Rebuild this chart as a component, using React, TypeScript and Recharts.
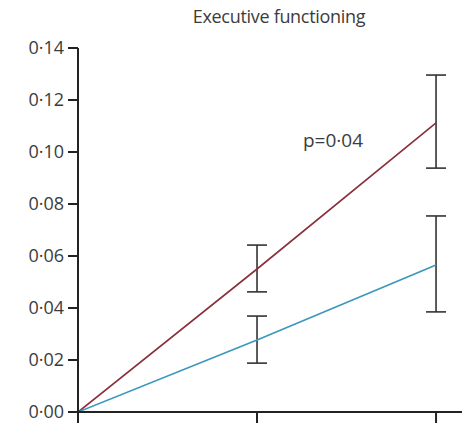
import React from 'react';
import { LineChart, Line, XAxis, YAxis, ErrorBar } from 'recharts';

const timepoints = [0, 1, 2];
const redMean = [0, 0.055, 0.1112];
const redLow = [0, 0.0462, 0.0938];
const redHigh = [0, 0.0642, 0.1296];
const blueMean = [0, 0.0277, 0.0565];
const blueLow = [0, 0.0188, 0.0385];
const blueHigh = [0, 0.0369, 0.0754];
const yTicks = [0, 0.02, 0.04, 0.06, 0.08, 0.1, 0.12, 0.14];
const title = 'Executive functioning';
const pLabel = 'p=0·04';

const data = timepoints.map((t, i) => ({
  t,
  red: redMean[i],
  redErr: [redMean[i] - redLow[i], redHigh[i] - redMean[i]],
  blue: blueMean[i],
  blueErr: [blueMean[i] - blueLow[i], blueHigh[i] - blueMean[i]],
}));

const fmt = (v: number) => v.toFixed(2).replace('.', '·');
const font = '"Open Sans", sans-serif';
const textColor = '#3c3c3c';

export default function App() {
  return (
    <div style={{ position: 'absolute', left: 0, top: 0, width: 462, height: 429, background: '#fff' }}>
      <LineChart width={462} height={429} data={data} margin={{ top: 48, right: 0, bottom: 0, left: 0 }}>
        <XAxis
          dataKey="t"
          type="number"
          domain={[0, 2.145]}
          ticks={[0, 1, 2]}
          allowDataOverflow
          height={17}
          tickSize={11}
          tickFormatter={() => ''}
          axisLine={{ stroke: '#222', strokeWidth: 2 }}
          tickLine={{ stroke: '#222', strokeWidth: 2 }}
        />
        <YAxis
          type="number"
          domain={[0, 0.14]}
          ticks={yTicks}
          width={78}
          tickSize={10}
          tickMargin={4}
          tickFormatter={fmt}
          axisLine={{ stroke: '#222', strokeWidth: 2 }}
          tickLine={{ stroke: '#222', strokeWidth: 2 }}
          tick={{ fill: textColor, fontSize: 18, fontFamily: font }}
        />
        <Line dataKey="red" stroke="#8a2f3c" strokeWidth={1.6} dot={false} isAnimationActive={false}>
          <ErrorBar dataKey="redErr" width={10} stroke="#333" strokeWidth={1.6} />
        </Line>
        <Line dataKey="blue" stroke="#3a96bb" strokeWidth={1.6} dot={false} isAnimationActive={false}>
          <ErrorBar dataKey="blueErr" width={10} stroke="#333" strokeWidth={1.6} />
        </Line>
        <text x={279} y={23} textAnchor="middle" fill={textColor} fontSize={18} fontFamily={font} letterSpacing={-0.3}>{title}</text>
        <text x={303} y={147} textAnchor="start" fill={textColor} fontSize={19} fontFamily={font}>{pLabel}</text>
      </LineChart>
    </div>
  );
}
